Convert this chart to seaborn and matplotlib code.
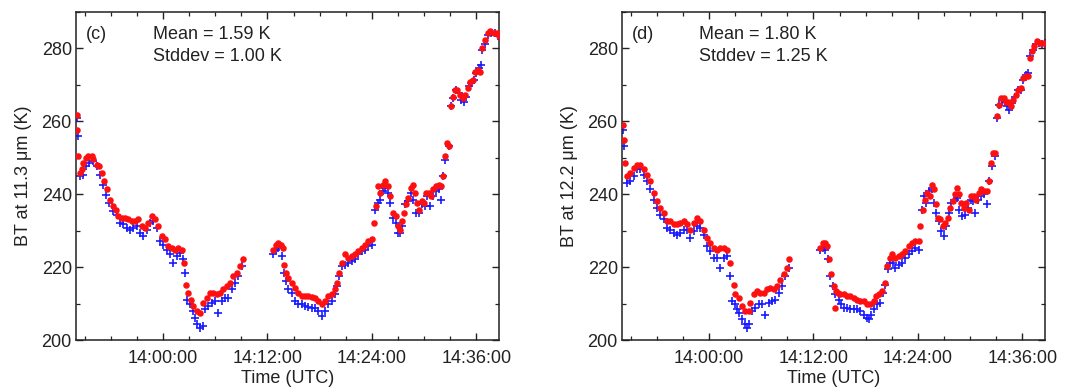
import matplotlib
matplotlib.use("Agg")
import matplotlib.pyplot as plt
import matplotlib.ticker as mticker
import seaborn as sns
import pandas as pd

# ---------------- data (time in minutes after 13:50:00 UTC, BT in K) ----------------
# Panel (c): 11.3 um
c_red_t = [0.08, 0.15, 0.27, 0.46, 0.65, 0.84, 1.15, 1.42, 1.80, 1.99, 2.38, 2.68, 2.95, 3.22, 3.52,
           3.91, 4.29, 4.60, 4.87, 5.25, 5.63, 6.02, 6.40, 6.78, 7.16, 7.55, 7.93, 8.31, 8.70, 9.08,
           9.46, 9.85, 10.23, 10.61, 11.00, 11.38, 11.76, 12.15, 12.41, 12.64, 12.91, 13.18, 13.49,
           13.87, 14.25, 14.64, 15.02, 15.40, 15.79, 16.17, 16.55, 16.93, 17.32, 17.70, 18.08, 18.47,
           18.85, 19.16,
           22.68, 22.99, 23.26, 23.52, 23.75, 23.91, 24.14, 24.41, 24.79, 25.17, 25.56, 25.94, 26.32,
           26.70, 27.09, 27.47, 27.85, 28.24, 28.62, 29.00, 29.39, 29.77, 30.04, 30.27, 30.54, 30.92,
           31.30, 31.69, 32.07, 32.45, 32.84, 33.22, 33.60, 33.98, 34.25, 34.48, 34.64, 34.94, 35.25,
           35.52, 35.79, 36.09, 36.40, 36.78, 37.05, 37.24, 37.43, 37.70, 37.93, 38.20, 38.47, 38.70,
           38.97, 39.23, 39.46, 39.73, 40.00, 40.23, 40.50, 40.77, 41.07, 41.38, 41.65, 41.92, 42.15,
           42.34, 42.61, 42.84, 43.07, 43.30, 43.56, 43.83, 44.14, 44.41, 44.71, 44.98, 45.29, 45.59,
           45.86, 46.13, 46.44, 46.70, 47.01, 47.28, 47.59, 47.97, 48.35, 48.55]
c_red_bt = [261.8, 257.7, 250.6, 245.8, 246.8, 248.6, 250.0, 250.6, 250.6, 249.7, 248.1, 247.7, 245.8,
            243.6, 241.3, 238.5, 236.7, 235.8, 234.0, 233.5, 233.5, 233.1, 232.6, 232.6, 233.1, 231.2,
            230.8, 232.1, 234.0, 233.1, 231.2, 228.5, 227.6, 225.8, 225.3, 224.8, 225.3, 224.8, 221.2,
            215.2, 213.0, 211.1, 209.3, 207.9, 207.5, 210.2, 211.6, 213.0, 213.0, 212.5, 213.0, 213.9,
            214.8, 215.7, 217.5, 218.4, 220.3, 222.1,
            224.8, 226.2, 226.7, 226.2, 225.3, 220.7, 218.4, 217.1, 215.7, 214.3, 213.0, 212.2, 212.2,
            212.1, 211.8, 211.4, 210.7, 209.8, 210.7, 212.1, 212.5, 213.9, 215.7, 218.4, 221.2, 223.5,
            222.6, 223.0, 223.5, 224.4, 225.3, 226.2, 227.1, 227.8, 232.1, 236.7, 242.2, 240.4, 242.6,
            243.6, 242.2, 239.5, 234.9, 234.0, 231.2, 230.3, 232.6, 234.9, 237.2, 239.0, 241.7, 242.6,
            240.4, 237.6, 235.8, 238.1, 237.6, 240.4, 240.4, 239.5, 241.3, 242.2, 242.6, 242.2, 245.0,
            250.4, 254.0, 253.2, 264.1, 266.8, 268.7, 268.7, 267.3, 266.4, 267.3, 269.1, 270.9, 271.4,
            273.6, 274.1, 273.6, 280.0, 282.4, 284.2, 284.7, 284.2, 284.2, 283.3]
c_blue_t = [0.08, 0.19, 0.46, 0.84, 1.15, 1.53, 1.92, 2.38, 2.76, 3.14, 3.45, 3.83, 4.29, 4.67, 5.06,
            5.44, 5.82, 6.21, 6.59, 6.97, 7.36, 7.74, 8.12, 8.51, 8.89, 9.27, 9.66, 10.04, 10.42, 10.80,
            11.19, 11.57, 11.95, 12.26, 12.53, 12.72, 13.10, 13.41, 13.68, 13.95, 14.25, 14.56, 14.83,
            15.21, 15.59, 15.98, 16.36, 16.74, 17.13, 17.51, 17.89, 18.28, 18.66, 19.04,
            22.68, 22.99, 23.26, 23.64, 23.91, 24.14, 24.41, 24.79, 25.17, 25.56, 25.94, 26.32, 26.70,
            27.09, 27.47, 27.85, 28.24, 28.62, 29.00, 29.39, 29.77, 30.04, 30.27, 30.54, 30.92, 31.30,
            31.69, 32.07, 32.45, 32.84, 33.22, 33.60, 33.98, 34.37, 34.64, 34.94, 35.25, 35.52, 35.79,
            36.09, 36.40, 36.78, 37.05, 37.24, 37.51, 37.82, 38.20, 38.47, 38.77, 39.08, 39.46, 39.73,
            40.11, 40.31, 40.69, 41.07, 41.38, 41.65, 41.92, 42.15, 42.45, 42.80, 43.07, 43.37, 43.64,
            43.95, 44.25, 44.52, 44.83, 45.10, 45.40, 45.67, 45.98, 46.28, 46.51, 46.70, 47.01, 47.28,
            47.66, 48.16, 48.54]
c_blue_bt = [260.9, 255.9, 244.9, 245.4, 247.7, 248.6, 249.0, 247.7, 245.4, 242.6, 239.9, 237.6, 235.3,
             234.4, 232.1, 231.7, 230.8, 230.3, 230.8, 231.2, 229.4, 228.5, 230.3, 232.1, 232.6, 230.8,
             227.1, 226.2, 224.8, 223.5, 221.2, 223.0, 223.9, 222.1, 218.4, 211.1, 209.8, 207.9, 206.1,
             204.3, 203.4, 203.8, 208.4, 209.3, 210.2, 210.7, 207.5, 210.7, 211.6, 211.6, 213.9, 215.7,
             217.5, 220.3,
             223.5, 224.8, 225.3, 223.0, 218.4, 216.1, 213.9, 213.0, 210.7, 209.8, 209.8, 209.3, 209.1,
             208.9, 208.9, 207.9, 206.6, 207.9, 209.8, 210.7, 212.5, 214.8, 217.5, 220.3, 220.7, 221.2,
             221.6, 222.1, 223.5, 224.4, 224.8, 225.8, 226.2, 235.8, 237.6, 238.5, 240.8, 241.7, 240.4,
             237.6, 233.5, 232.1, 229.4, 229.4, 231.2, 237.2, 238.1, 240.4, 238.5, 234.9, 234.9, 237.2,
             236.7, 239.5, 236.7, 239.5, 240.8, 241.3, 238.5, 245.0, 249.5, 253.2, 264.1, 266.4, 268.7,
             267.7, 265.9, 265.4, 266.8, 269.6, 270.4, 271.4, 273.2, 274.6, 275.5, 279.5, 281.3, 283.6,
             284.2, 284.2, 283.3]

# Panel (d): 12.2 um
d_red_t = [0.08, 0.19, 0.31, 0.57, 0.96, 1.34, 1.72, 2.11, 2.49, 2.87, 3.26, 3.64, 4.02, 4.41, 4.79,
           5.17, 5.56, 5.94, 6.32, 6.70, 7.09, 7.47, 7.85, 8.24, 8.62, 9.00, 9.39, 9.77, 10.15, 10.54,
           10.92, 11.30, 11.69, 12.07, 12.45, 12.84, 13.03, 13.41, 13.79, 14.18, 14.56, 14.75, 15.13,
           15.52, 15.90, 16.28, 16.67, 17.05, 17.43, 17.82, 18.20, 18.58, 18.97, 19.23,
           22.80, 23.07, 23.30, 23.56, 23.75, 24.02, 24.33, 24.52, 24.60, 24.83, 25.10, 25.48, 25.86,
           26.25, 26.63, 27.01, 27.39, 27.78, 28.16, 28.54, 28.93, 29.20, 29.58, 29.89, 30.19, 30.46,
           30.77, 31.03, 31.42, 31.80, 32.18, 32.57, 32.95, 33.33, 33.72, 34.10, 34.29, 34.56, 34.79,
           35.06, 35.33, 35.56, 35.82, 36.02, 36.32, 36.59, 36.86, 37.16, 37.47, 37.74, 38.01, 38.31,
           38.51, 38.77, 39.00, 39.27, 39.54, 39.85, 40.11, 40.42, 40.69, 41.00, 41.26, 41.57, 41.95,
           42.22, 42.45, 42.64, 42.91, 43.10, 43.37, 43.60, 43.87, 44.14, 44.37, 44.64, 44.90, 45.21,
           45.52, 45.79, 46.05, 46.36, 46.67, 46.86, 47.13, 47.39, 47.70, 47.97, 48.28, 48.55]
d_red_bt = [259.1, 255.0, 248.6, 244.9, 245.8, 247.2, 248.1, 248.1, 246.8, 245.4, 243.6, 240.4, 238.1,
            236.3, 234.9, 232.6, 232.6, 231.7, 231.7, 232.1, 232.6, 231.7, 230.3, 232.1, 233.5, 232.6,
            230.3, 228.0, 226.7, 225.3, 224.8, 225.3, 225.3, 224.8, 221.2, 215.2, 212.5, 211.6, 209.3,
            207.9, 207.9, 210.2, 212.5, 213.4, 213.0, 213.0, 213.9, 214.3, 213.9, 214.8, 216.6, 218.0,
            219.8, 222.1,
            225.3, 226.7, 226.7, 225.8, 222.1, 218.0, 214.8, 208.9, 213.4, 213.0, 212.5, 212.5, 212.1,
            212.1, 211.6, 211.1, 210.7, 210.7, 209.8, 209.8, 210.7, 212.1, 212.5, 213.4, 215.7, 220.3,
            222.6, 223.5, 222.6, 223.0, 223.5, 224.4, 225.8, 226.7, 227.1, 227.1, 231.2, 235.8, 238.5,
            240.4, 239.5, 242.6, 241.3, 237.2, 233.5, 233.1, 231.2, 232.1, 233.5, 236.3, 238.1, 240.0,
            241.7, 240.0, 237.6, 236.3, 237.6, 235.8, 239.5, 239.5, 238.5, 240.4, 241.3, 240.8, 240.8,
            243.6, 248.6, 251.4, 251.4, 261.4, 264.6, 266.4, 266.4, 265.4, 265.4, 264.1, 265.9, 267.3,
            268.7, 269.1, 271.9, 272.4, 272.4, 277.4, 279.2, 280.6, 282.0, 281.5, 281.5, 281.5]
d_blue_t = [0.08, 0.19, 0.57, 0.96, 1.34, 1.72, 2.11, 2.49, 2.87, 3.26, 3.64, 4.02, 4.41, 4.79, 5.17,
            5.56, 5.94, 6.32, 6.70, 7.09, 7.47, 7.85, 8.24, 8.62, 9.00, 9.39, 9.77, 10.15, 10.54, 10.92,
            11.30, 11.69, 12.07, 12.45, 12.64, 12.95, 13.22, 13.49, 13.79, 14.10, 14.37, 14.64, 14.94,
            15.33, 15.71, 16.09, 16.48, 16.86, 17.24, 17.62, 18.01, 18.39, 18.77, 19.16,
            22.80, 23.07, 23.37, 23.64, 23.95, 24.25, 24.52, 24.90, 25.21, 25.48, 25.86, 26.25, 26.63,
            27.01, 27.39, 27.78, 28.16, 28.35, 28.66, 28.93, 29.31, 29.69, 29.96, 30.27, 30.57, 30.84,
            31.11, 31.42, 31.80, 32.18, 32.57, 32.95, 33.33, 33.72, 34.10, 34.48, 34.71, 34.94, 35.25,
            35.56, 35.82, 36.09, 36.40, 36.70, 36.97, 37.24, 37.55, 37.85, 38.24, 38.51, 38.77, 39.08,
            39.46, 39.77, 40.04, 40.31, 40.61, 40.92, 41.26, 41.57, 41.88, 42.22, 42.53, 42.84, 43.10,
            43.37, 43.68, 43.98, 44.25, 44.52, 44.83, 45.13, 45.48, 45.79, 46.09, 46.44, 46.67, 46.93,
            47.20, 47.51, 47.89, 48.28, 48.55]
d_blue_bt = [257.7, 253.2, 243.1, 243.6, 245.0, 246.8, 246.8, 245.4, 243.6, 241.3, 238.5, 236.3, 234.4,
             233.1, 230.8, 230.3, 229.4, 228.9, 229.4, 230.3, 230.3, 228.0, 229.9, 231.2, 230.8, 228.9,
             225.8, 224.4, 222.6, 222.6, 219.8, 222.6, 223.0, 217.5, 210.7, 209.8, 208.4, 207.5, 205.7,
             204.3, 203.4, 204.3, 207.9, 208.8, 209.8, 209.8, 207.0, 210.2, 210.7, 211.1, 213.0, 214.8,
             217.5, 219.8,
             224.8, 225.3, 224.8, 222.1, 217.5, 214.8, 212.5, 211.1, 209.8, 208.9, 208.9, 208.4, 208.4,
             208.4, 207.9, 207.0, 206.1, 205.7, 207.0, 208.4, 209.8, 210.2, 213.0, 215.2, 219.4, 221.2,
             221.2, 219.8, 220.7, 221.2, 222.6, 223.5, 224.4, 225.3, 224.8, 235.8, 239.5, 237.6, 240.8,
             241.3, 237.6, 234.9, 232.6, 229.9, 228.5, 231.2, 234.9, 237.6, 238.5, 239.0, 235.8, 234.0,
             234.4, 236.3, 238.5, 238.1, 234.9, 238.5, 239.5, 240.0, 237.2, 243.6, 247.7, 250.4, 261.0,
             264.6, 265.9, 265.4, 264.1, 263.2, 265.0, 266.8, 268.7, 268.7, 271.4, 272.8, 273.2, 277.8,
             279.7, 281.1, 281.5, 281.1, 281.5]

panel_tags = ["(c)", "(d)"]
panel_means = [1.59, 1.80]
panel_stds = [1.00, 1.25]
panel_ylabels = ["BT at 11.3 \u03bcm (K)", "BT at 12.2 \u03bcm (K)"]
x_label = "Time (UTC)"

# ---------------- styling ----------------
sns.set_theme(style="ticks")
plt.rcParams["font.family"] = ["Liberation Sans", "DejaVu Sans"]
plt.rcParams.update({
    "font.size": 13,
    "axes.edgecolor": "#222222",
    "axes.linewidth": 1.1,
    "xtick.direction": "in", "ytick.direction": "in",
    "xtick.top": True, "ytick.right": True,
    "xtick.major.size": 5, "ytick.major.size": 5,
    "xtick.minor.size": 3, "ytick.minor.size": 3,
    "xtick.major.width": 1.0, "ytick.major.width": 1.0,
    "xtick.minor.width": 0.9, "ytick.minor.width": 0.9,
    "xtick.color": "#222222", "ytick.color": "#222222",
    "xtick.labelcolor": "#222222", "ytick.labelcolor": "#222222",
    "xtick.labelsize": 13, "ytick.labelsize": 13,
})

fig = plt.figure(figsize=(10.75, 3.87), dpi=100)
ax_c = fig.add_axes([0.0707, 0.1214, 0.3935, 0.8476])
ax_d = fig.add_axes([0.5786, 0.1214, 0.3935, 0.8476])

series = [
    (c_red_t, c_red_bt, c_blue_t, c_blue_bt),
    (d_red_t, d_red_bt, d_blue_t, d_blue_bt),
]


def fmt_time(v, pos=None):
    total = int(round(v * 60)) + 13 * 3600 + 50 * 60
    h = total // 3600
    m = (total % 3600) // 60
    s = total % 60
    return f"{h:02d}:{m:02d}:{s:02d}"


for i, ax in enumerate([ax_c, ax_d]):
    rt, rv, bt, bv = series[i]
    df_b = pd.DataFrame({"t": bt, "bt": bv})
    df_r = pd.DataFrame({"t": rt, "bt": rv})
    sns.scatterplot(data=df_b, x="t", y="bt", ax=ax, marker="+", color="#1a1aff",
                    s=38, linewidth=1.2, zorder=2)
    sns.scatterplot(data=df_r, x="t", y="bt", ax=ax, marker="o", color="#ff1010",
                    s=22, linewidth=0, zorder=3)
    ax.set_xlim(0, 48.6)
    ax.set_ylim(200, 290)
    ax.xaxis.set_major_locator(mticker.MultipleLocator(12, offset=10))
    ax.xaxis.set_minor_locator(mticker.MultipleLocator(3, offset=1))
    ax.xaxis.set_major_formatter(mticker.FuncFormatter(fmt_time))
    ax.yaxis.set_major_locator(mticker.MultipleLocator(20))
    ax.yaxis.set_minor_locator(mticker.MultipleLocator(10))
    ax.tick_params(which="both", top=True, right=True)
    ax.tick_params(axis="x", which="major", pad=7)
    ax.tick_params(axis="y", which="major", pad=3)
    ax.set_xlabel(x_label, fontsize=13, labelpad=2, color="#222222")
    ax.set_ylabel(panel_ylabels[i], fontsize=13, labelpad=7, color="#222222")
    ax.text(0.024, 0.93, panel_tags[i], transform=ax.transAxes, fontsize=13,
            ha="left", va="center", color="#222222")
    ax.text(0.182, 0.93, f"Mean = {panel_means[i]:.2f} K", transform=ax.transAxes,
            fontsize=13, ha="left", va="center", color="#222222")
    ax.text(0.182, 0.864, f"Stddev = {panel_stds[i]:.2f} K", transform=ax.transAxes,
            fontsize=13, ha="left", va="center", color="#222222")

fig.savefig("out.png", dpi=100)
